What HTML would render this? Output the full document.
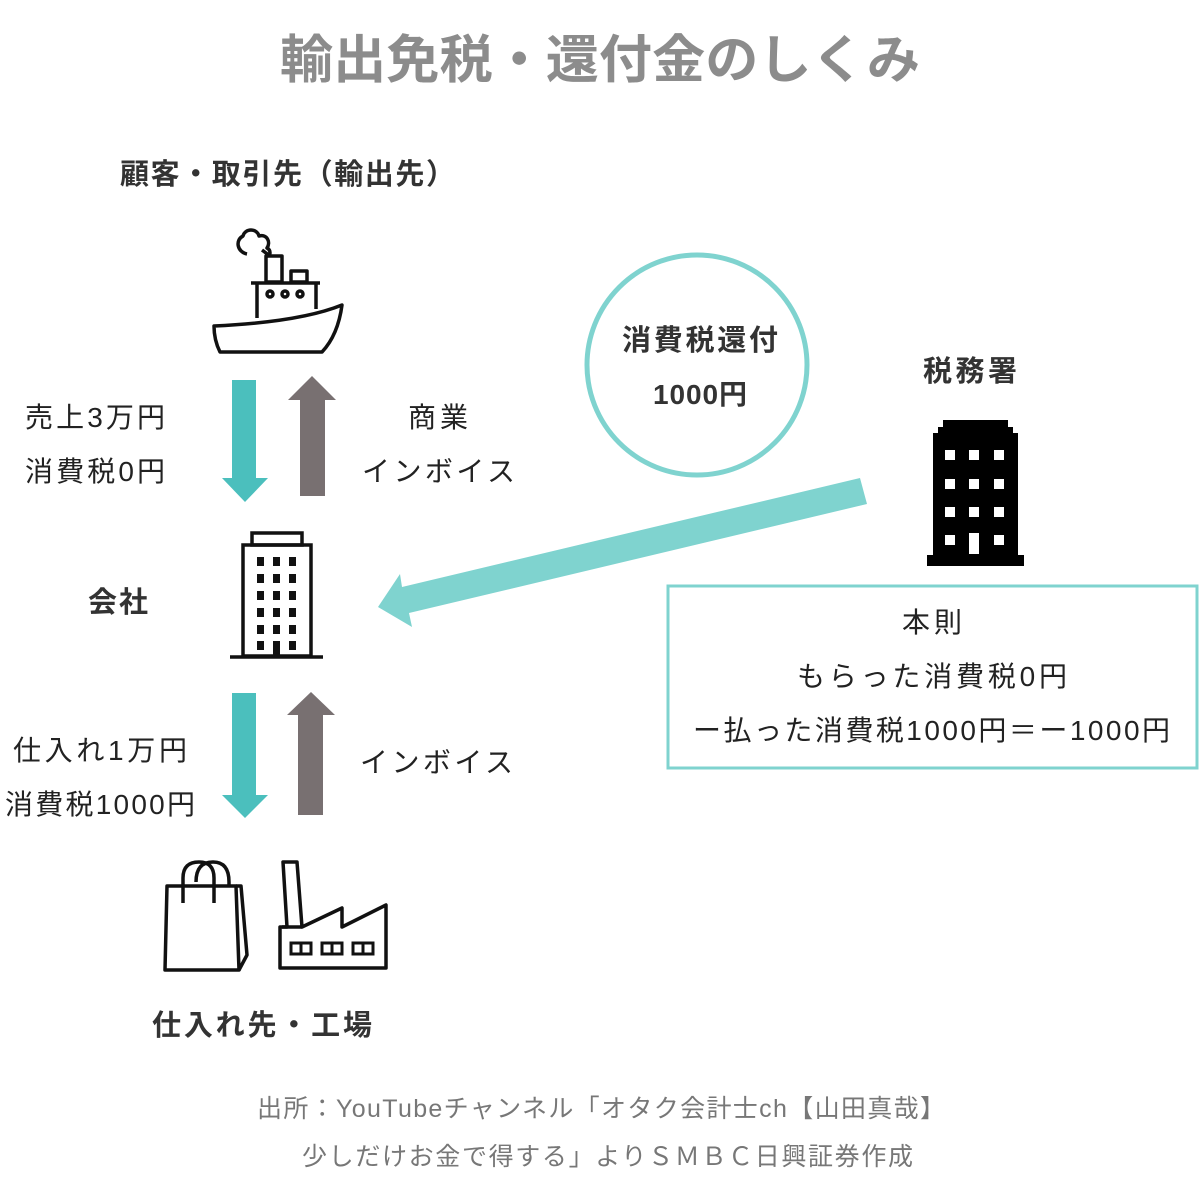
<!DOCTYPE html>
<html><head><meta charset="utf-8"><style>
body{margin:0;background:#fff;}
svg{display:block;}
text{font-family:"Liberation Sans","Noto Sans CJK JP",sans-serif;}
</style></head><body>
<svg width="1200" height="1200" viewBox="0 0 1200 1200" xmlns="http://www.w3.org/2000/svg">
<rect width="1200" height="1200" fill="#fff"/>
<text x="280" y="78" textLength="640" lengthAdjust="spacingAndGlyphs" font-size="52" font-weight="bold" fill="#8c8c8c">輸出免税・還付金のしくみ</text>
<text x="120" y="184" textLength="335" lengthAdjust="spacing" font-size="29" font-weight="bold" fill="#333">顧客・取引先（輸出先）</text>

<!-- ship -->
<g fill="none" stroke="#111" stroke-width="3.5" stroke-linejoin="round">
<path d="M247,254 c-10,-2 -12,-14 -4,-18 c2,-8 14,-8 16,0 c8,-2 12,6 8,12 c4,2 4,8 0,8 M262,250 l8,6"/>
<rect x="266" y="256" width="16" height="26"/>
<rect x="291" y="271" width="16" height="11"/>
<line x1="251" y1="283" x2="320" y2="283"/>
<line x1="257" y1="283" x2="257" y2="318"/>
<line x1="316" y1="283" x2="316" y2="309"/>
<path d="M214,326 Q300,322 342,305 Q338,335 322,352 L220,352 Q214,340 214,326 Z"/>
<circle cx="270" cy="294" r="3"/><circle cx="285" cy="294" r="3"/><circle cx="300" cy="294" r="3"/>
</g>

<polygon points="232,380 256,380 256,478 268,478 245,502 222,478 232,478" fill="#4bbfbd"/>
<polygon points="300,496 325,496 325,400 336,400 312,376 288,400 300,400" fill="#787071"/>
<text x="25" y="427" textLength="140" lengthAdjust="spacing" font-size="28" fill="#222">売上3万円</text>
<text x="25" y="481" textLength="140" lengthAdjust="spacing" font-size="28" fill="#222">消費税0円</text>
<text x="408" y="427" textLength="60" lengthAdjust="spacing" font-size="28" fill="#222">商業</text>
<text x="362" y="481" textLength="153" lengthAdjust="spacing" font-size="28" fill="#222">インボイス</text>

<g fill="none" stroke="#111" stroke-width="3.5">
<rect x="252" y="533" width="50" height="12"/>
<rect x="243" y="545" width="68" height="111"/>
<line x1="230" y1="657" x2="323" y2="657"/>
</g>
<g fill="#111">
<rect x="257" y="557" width="7" height="9"/><rect x="273" y="557" width="7" height="9"/><rect x="289" y="557" width="7" height="9"/>
<rect x="257" y="574" width="7" height="9"/><rect x="273" y="574" width="7" height="9"/><rect x="289" y="574" width="7" height="9"/>
<rect x="257" y="591" width="7" height="9"/><rect x="273" y="591" width="7" height="9"/><rect x="289" y="591" width="7" height="9"/>
<rect x="257" y="608" width="7" height="9"/><rect x="273" y="608" width="7" height="9"/><rect x="289" y="608" width="7" height="9"/>
<rect x="257" y="625" width="7" height="9"/><rect x="273" y="625" width="7" height="9"/><rect x="289" y="625" width="7" height="9"/>
<rect x="257" y="641" width="7" height="9"/><rect x="273" y="641" width="7" height="15"/><rect x="289" y="641" width="7" height="9"/>
</g>
<text x="88" y="612" textLength="60" lengthAdjust="spacing" font-size="29" font-weight="bold" fill="#333">会社</text>

<polygon points="232,693 256,693 256,795 268,795 245,818 222,795 232,795" fill="#4bbfbd"/>
<polygon points="298,815 323,815 323,715 335,715 311,692 287,715 298,715" fill="#787071"/>
<text x="13" y="760" textLength="174" lengthAdjust="spacing" font-size="28" fill="#222">仕入れ1万円</text>
<text x="5" y="814" textLength="190" lengthAdjust="spacing" font-size="28" fill="#222">消費税1000円</text>
<text x="360" y="772" textLength="153" lengthAdjust="spacing" font-size="28" fill="#222">インボイス</text>

<g fill="none" stroke="#111" stroke-width="3.5" stroke-linejoin="round">
<path d="M167,886 L236,886 L239,970 L165,970 Z"/>
<path d="M236,886 L241,886 L247,955 L239,970"/>
<path d="M183,903 L183,878 Q183,862 199,862 Q214,862 214,878 L214,903"/>
<path d="M196,882 Q196,862 213,862 Q229,862 229,882 L229,886"/>
<path d="M280,968 L280,927 L287,927 L283,862 L297,862 L302,927 L342,908 L342,927 L386,905 L386,968 Z"/>
<line x1="282" y1="927" x2="302" y2="927"/>
</g>
<g fill="none" stroke="#111" stroke-width="3">
<rect x="291" y="943" width="20" height="11"/><line x1="301" y1="943" x2="301" y2="954"/>
<rect x="322" y="943" width="20" height="11"/><line x1="332" y1="943" x2="332" y2="954"/>
<rect x="353" y="943" width="20" height="11"/><line x1="363" y1="943" x2="363" y2="954"/>
</g>
<text x="152" y="1035" textLength="220" lengthAdjust="spacing" font-size="29" font-weight="bold" fill="#333">仕入れ先・工場</text>

<circle cx="697" cy="365" r="110" fill="none" stroke="#7fd3cf" stroke-width="5"/>
<text x="622" y="350" textLength="156" lengthAdjust="spacing" font-size="29" font-weight="bold" fill="#333">消費税還付</text>
<text x="653" y="404" textLength="94" lengthAdjust="spacing" font-size="28" font-weight="bold" fill="#333">1000円</text>

<text x="923" y="381" textLength="94" lengthAdjust="spacing" font-size="29" font-weight="bold" fill="#333">税務署</text>
<polygon points="943,420 1008,420 1008,427 1013,427 1013,433 1018,433 1018,555 1024,555 1024,566 927,566 927,555 933,555 933,433 938,433 938,427 943,427" fill="#000"/>
<g fill="#fff">
<rect x="945" y="450" width="10" height="10"/><rect x="969" y="450" width="10" height="10"/><rect x="994" y="450" width="10" height="10"/>
<rect x="945" y="479" width="10" height="10"/><rect x="969" y="479" width="10" height="10"/><rect x="994" y="479" width="10" height="10"/>
<rect x="945" y="507" width="10" height="10"/><rect x="969" y="507" width="10" height="10"/><rect x="994" y="507" width="10" height="10"/>
<rect x="945" y="535" width="10" height="10"/><rect x="969" y="533" width="10" height="21"/><rect x="994" y="535" width="10" height="10"/>
</g>

<polygon points="860,478 867,504 409,613 412,627 378,607 400,574 402,587" fill="#7fd3cf"/>

<rect x="668" y="586" width="529" height="182" fill="#fff" stroke="#7fd3cf" stroke-width="3"/>
<text x="902" y="632" textLength="60" lengthAdjust="spacing" font-size="28" fill="#222">本則</text>
<text x="797" y="686" textLength="270" lengthAdjust="spacing" font-size="28" fill="#222">もらった消費税0円</text>
<text x="693" y="740" textLength="477" lengthAdjust="spacing" font-size="28" fill="#222">ー払った消費税1000円＝ー1000円</text>

<text x="257" y="1117" textLength="688" lengthAdjust="spacing" font-size="25" fill="#777">出所：YouTubeチャンネル「オタク会計士ch【山田真哉】</text>
<text x="302" y="1165" textLength="611" lengthAdjust="spacing" font-size="25" fill="#777">少しだけお金で得する」よりＳＭＢＣ日興証券作成</text>
</svg>
</body></html>
